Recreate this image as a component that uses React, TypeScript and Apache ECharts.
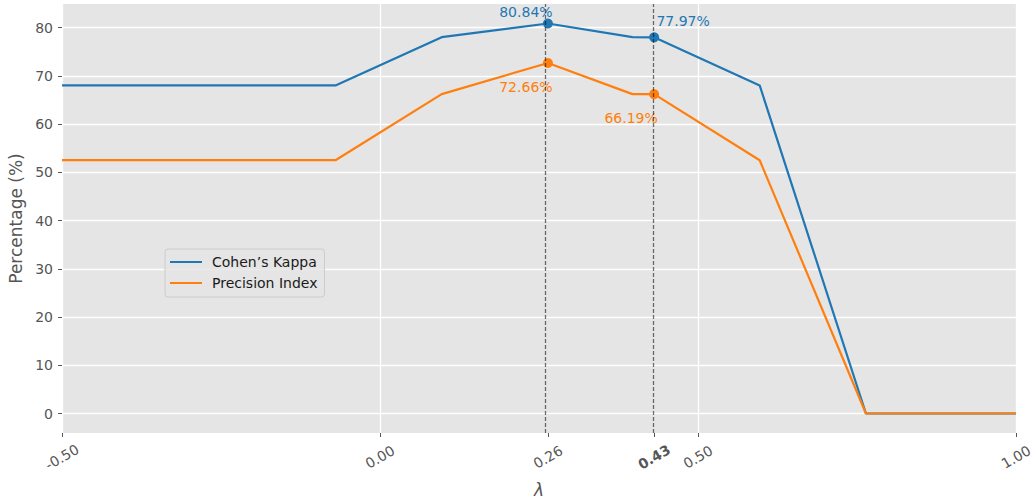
import React, { useEffect, useRef } from "react";
import * as echarts from "echarts";

// λ values along the sweep and the two metrics (in %)
const lambdas = [-0.5, -0.07, 0.097, 0.264, 0.397, 0.431, 0.597, 0.764, 1.0];
const cohensKappa = [68, 68, 78, 80.84, 78, 77.97, 68, 0, 0];
const precisionIndex = [52.5, 52.5, 66.2, 72.66, 66.2, 66.19, 52.5, 0, 0];

// points that get a marker, a value label and a vertical guide
const highlightIdx = [3, 5];

const xTicks = [-0.5, 0, 0.264, 0.431, 0.5, 1.0];
const boldTick = 0.431;
const yTicks = [0, 10, 20, 30, 40, 50, 60, 70, 80];

const seriesNames = ["Cohen\u2019s Kappa", "Precision Index"];
const colors = ["#1f77b4", "#ff7f0e"];

// label offsets (px) from the marked point, per series, per highlighted point
const labelOffsets = [
  [
    [-22, -12],
    [29, -16],
  ],
  [
    [-22, 24],
    [-23, 24],
  ],
];

const FONT = "DejaVu Sans";

function buildData(values: number[], s: number) {
  return lambdas.map((x, i) => {
    const h = highlightIdx.indexOf(i);
    if (h < 0) return { value: [x, values[i]], symbol: "none" };
    return {
      value: [x, values[i]],
      symbol: "circle",
      symbolSize: 10,
      label: {
        show: true,
        position: "inside",
        offset: labelOffsets[s][h],
        formatter: (p: any) => `${p.value[1].toFixed(2)}%`,
        color: colors[s],
        fontFamily: FONT,
        fontSize: 14,
      },
    };
  });
}

export default function App() {
  const ref = useRef<HTMLDivElement>(null);

  useEffect(() => {
    if (!ref.current) return;
    const chart = echarts.init(ref.current, undefined, { renderer: "svg" });
    const yMin = -4.042;
    const yMax = 84.882;

    chart.setOption({
      animation: false,
      backgroundColor: "#ffffff",
      textStyle: { fontFamily: FONT },
      grid: {
        left: 62,
        right: 20,
        top: 4,
        bottom: 67,
        show: true,
        backgroundColor: "#e5e5e5",
        borderWidth: 0,
        outerBoundsMode: "none",
        containLabel: false,
      },
      legend: {
        orient: "vertical",
        left: 165,
        top: 249,
        data: seriesNames,
        icon: "rect",
        itemWidth: 32,
        itemHeight: 2,
        itemGap: 5,
        padding: [5, 7, 6, 5],
        backgroundColor: "rgba(229,229,229,0.8)",
        borderColor: "#cccccc",
        borderWidth: 1,
        borderRadius: 3,
        textStyle: {
          fontFamily: FONT,
          fontSize: 14,
          color: "#1a1a1a",
          lineHeight: 16,
          padding: [0, 0, 0, 5],
        },
      },
      xAxis: [
        {
          type: "value",
          min: -0.5,
          max: 1.0,
          interval: 0.5,
          axisLine: { show: false, onZero: false },
          axisTick: { show: false },
          axisLabel: { show: false },
          splitLine: { show: true, lineStyle: { color: "#ffffff", width: 1.3 } },
        },
        {
          type: "value",
          min: -0.5,
          max: 1.0,
          position: "bottom",
          axisLine: { show: false, onZero: false },
          axisTick: {
            show: true,
            length: 4,
            lineStyle: { color: "#555555", width: 1 },
            customValues: xTicks,
          },
          axisLabel: {
            show: true,
            customValues: xTicks,
            rotate: 30,
            align: "center",
            verticalAlign: "middle",
            margin: 24,
            color: "#555555",
            fontFamily: FONT,
            fontSize: 14,
            formatter: (v: number) =>
              Math.abs(v - boldTick) < 1e-9 ? `{b|${v.toFixed(2)}}` : v.toFixed(2),
            rich: {
              b: { fontWeight: "bold", color: "#555555", fontFamily: FONT, fontSize: 14 },
            },
          },
          splitLine: { show: false },
          name: "\u03bb",
          nameLocation: "middle",
          nameGap: 48,
          nameTextStyle: {
            fontFamily: FONT,
            fontSize: 17,
            fontStyle: "italic",
            color: "#555555",
          },
        },
      ],
      yAxis: {
        type: "value",
        min: yMin,
        max: yMax,
        axisLine: { show: false, onZero: false },
        axisTick: {
          show: true,
          length: 4,
          lineStyle: { color: "#555555", width: 1 },
          customValues: yTicks,
        },
        axisLabel: {
          customValues: yTicks,
          margin: 9,
          color: "#555555",
          fontFamily: FONT,
          fontSize: 14,
        },
        splitLine: { show: true, lineStyle: { color: "#ffffff", width: 1.3 } },
        name: "Percentage (%)",
        nameLocation: "middle",
        nameGap: 36,
        nameTextStyle: { fontFamily: FONT, fontSize: 17, color: "#555555" },
      },
      series: [
        {
          name: seriesNames[0],
          type: "line",
          xAxisIndex: 0,
          data: buildData(cohensKappa, 0),
          color: colors[0],
          lineStyle: { width: 2.2, color: colors[0] },
          itemStyle: { color: colors[0] },
          showSymbol: true,
          z: 3,
          markLine: {
            silent: true,
            symbol: "none",
            label: { show: false },
            lineStyle: { type: [4, 2], color: "rgba(0,0,0,0.55)", width: 1.3 },
            data: highlightIdx.map((i) => ({ xAxis: lambdas[i] })),
            z: 6,
          },
        },
        {
          name: seriesNames[1],
          type: "line",
          xAxisIndex: 0,
          data: buildData(precisionIndex, 1),
          color: colors[1],
          lineStyle: { width: 2.2, color: colors[1] },
          itemStyle: { color: colors[1] },
          showSymbol: true,
          z: 4,
        },
      ],
    });

    return () => chart.dispose();
  }, []);

  return (
    <div
      ref={ref}
      style={{ position: "absolute", left: 0, top: 0, width: 1036, height: 500 }}
    />
  );
}
